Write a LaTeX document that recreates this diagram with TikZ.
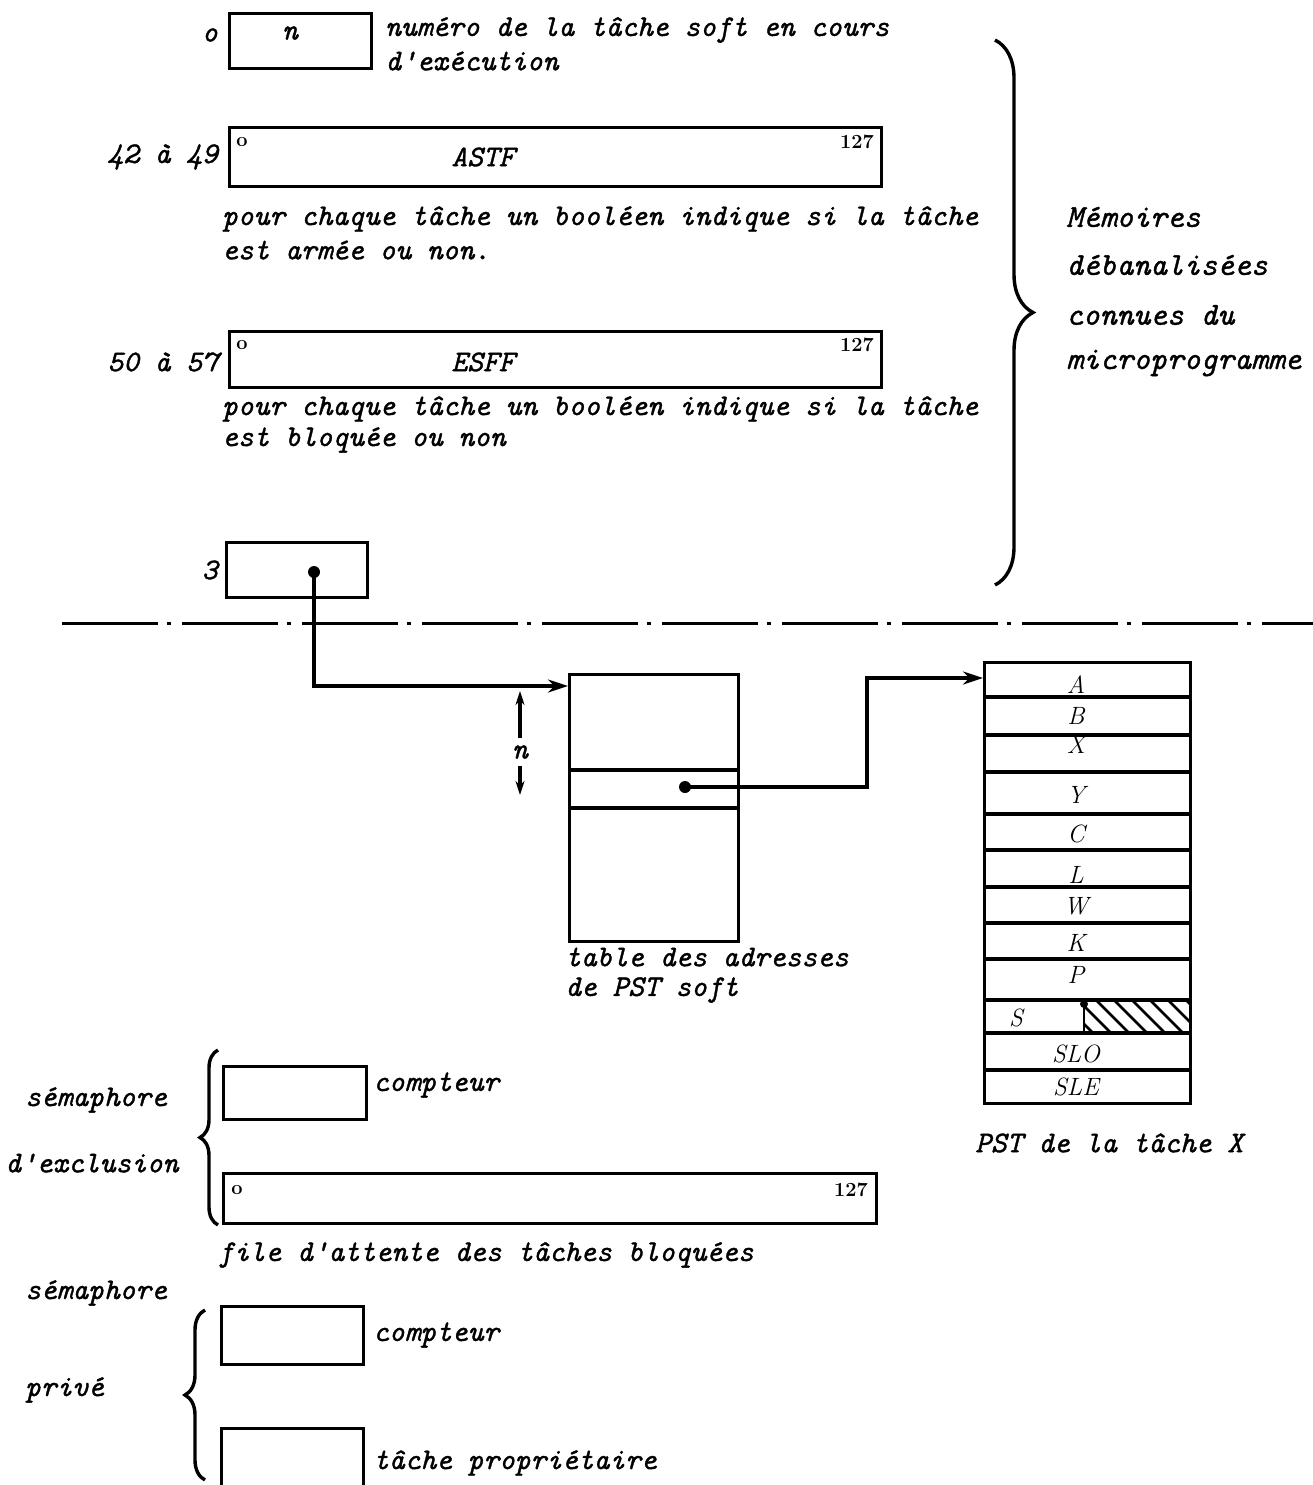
\documentclass[tikz,border=0pt]{standalone}
\usepackage{fontspec}
\setmonofont{Latin Modern Mono}[FakeBold=1.2]
\usetikzlibrary{decorations.pathreplacing,arrows.meta}
\tikzset{
  box/.style={draw,line width=3.4pt,inner sep=0pt,anchor=north west},
  tw/.style={font=\fontsize{30}{34}\selectfont\ttfamily\itshape,inner sep=0pt},
  twl/.style={tw,anchor=west},
  twr/.style={tw,anchor=east},
  bigtw/.style={font=\fontsize{32}{36}\selectfont\ttfamily\itshape,inner sep=0pt,anchor=west},
  pstl/.style={font=\fontsize{25}{28}\selectfont\rmfamily\itshape,inner sep=0pt},
  small/.style={font=\fontsize{20}{22}\selectfont\rmfamily\bfseries,inner sep=0pt},
  conn/.style={line width=3.2pt},
  arr/.style={conn,-{Stealth[length=20pt,width=13pt]}},
  dotn/.style={circle,fill,inner sep=0pt,minimum size=12pt},
  bracedec/.style={line width=3.4pt,decorate,decoration={brace,amplitude=#1}},
  row/.style={line width=3.2pt}
}
\begin{document}
\begin{tikzpicture}[x=1pt,y=-1pt]
\useasboundingbox (0,0) rectangle (1313,1485);
% --- top: n
\node[twr] (lo) at (218,35) {o};
\node[box,minimum width=142pt,minimum height=55pt] (bn) at (228,12) {};
\node[tw] (tn) at (290,33) {n};
\node[twl] (tnum1) at (385,30) {numéro de la tâche soft en cours};
\node[twl] (tnum2) at (385,61) {d'exécution};
% --- ASTF
\node[twr] (l42) at (218,157) {42 à 49};
\node[box,minimum width=652pt,minimum height=59pt] (astf) at (228,126) {};
\node[small] (a0) at (242,142) {o};
\node[small,anchor=east] (a127) at (874,142) {127};
\node[tw] (tastf) at (483,157) {ASTF};
\node[twl] (p1a) at (222,219) {pour chaque tâche un booléen indique si la tâche};
\node[twl] (p1b) at (222,250) {est armée ou non.};
% --- ESFF
\node[twr] (l50) at (218,362) {50 à 57};
\node[box,minimum width=652pt,minimum height=56pt] (esff) at (228,330) {};
\node[small] (e0) at (242,345) {o};
\node[small,anchor=east] (e127) at (874,345) {127};
\node[tw] (tesff) at (483,362) {ESFF};
\node[twl] (p2a) at (222,409) {pour chaque tâche un booléen indique si la tâche};
\node[twl] (p2b) at (222,440) {est bloquée ou non};
% --- 3
\node[twr] (l3) at (218,570) {3};
\node[box,minimum width=141pt,minimum height=55pt] (b3) at (225,541) {};
\node[dotn] (d3) at (314,572) {};
% --- big brace
\draw[bracedec=38pt] (995,40) -- (995,585);
\node[bigtw] (m1) at (1066,217) {Mémoires};
\node[bigtw] (m2) at (1066,265) {débanalisées};
\node[bigtw] (m3) at (1066,315) {connues du};
\node[bigtw] (m4) at (1066,363) {microprogramme};
% --- dash-dot line
\draw[line width=3pt,dash pattern=on 96pt off 9pt on 4pt off 11pt] (62,623) -- (1313,623);
% --- table
\node[box,minimum width=169pt,minimum height=267pt] (tab) at (568,673) {};
\draw[row] (tab.west |- 0,770) -- (tab.east |- 0,770);
\draw[row] (tab.west |- 0,808) -- (tab.east |- 0,808);
\node[dotn] (dt) at (685,787) {};
\coordinate (tin) at (568,686);
\draw[arr] (d3.center) |- (tin);
\node[tw] (nn) at (520,752) {n};
\draw[conn,-{Stealth[length=14pt,width=9pt]}] (520,738) -- (520,691);
\draw[conn,-{Stealth[length=14pt,width=9pt]}] (520,766) -- (520,795);
\node[twl] (ta1) at (565,957) {table des adresses};
\node[twl] (ta2) at (565,990) {de PST soft};
% --- PST
\node[box,minimum width=206pt,minimum height=441pt] (pst) at (983,661) {};
\foreach \yy in {697,735,772,814,850,887,923,959,1000,1033,1070}
  \draw[row] (983,\yy) -- (1189,\yy);
\begin{scope}
  \clip (1084,1000) rectangle (1189,1033);
  \foreach \xx in {1060,1078,...,1200}
    \draw[line width=2.6pt] (\xx,1000) -- (\xx+33,1033);
\end{scope}
\draw[line width=2.6pt] (1084,1033) -- (1084,1004);
\node[circle,fill,inner sep=0pt,minimum size=8pt] (ds) at (1084,1004) {};
\coordinate (pin) at (983,678);
\draw[arr] (dt.center) -- (867,787) |- (pin);
\node[pstl] (rA) at (1076,685) {A};
\node[pstl] (rB) at (1076,716) {B};
\node[pstl] (rX) at (1076,745) {X};
\node[pstl] (rY) at (1076,795) {Y};
\node[pstl] (rC) at (1076,834) {C};
\node[pstl] (rL) at (1076,875) {L};
\node[pstl] (rW) at (1076,906) {W};
\node[pstl] (rK) at (1076,943) {K};
\node[pstl] (rP) at (1076,975) {P};
\node[pstl] (rS) at (1016,1018) {S};
\node[pstl] (rSLO) at (1076,1054) {SLO};
\node[pstl] (rSLE) at (1076,1087) {SLE};
\node[twl] (pstx) at (975,1143) {PST de la tâche X};
% --- semaphore d'exclusion
\node[twl] (s1) at (25,1100) {sémaphore};
\node[twl] (s2) at (5,1163) {d'exclusion};
\draw[bracedec=18pt] (218,1225) -- (218,1050);
\node[box,minimum width=143pt,minimum height=53pt] (c1) at (222,1065) {};
\node[twl] (tc1) at (373,1085) {compteur};
\node[box,minimum width=653pt,minimum height=50pt] (fq) at (222,1172) {};
\node[small] (f0) at (237,1190) {o};
\node[small,anchor=east] (f127) at (868,1190) {127};
\node[twl] (tfq) at (218,1255) {file d'attente des tâches bloquées};
% --- semaphore prive
\node[twl] (s3) at (25,1293) {sémaphore};
\node[twl] (s4) at (25,1390) {privé};
\draw[bracedec=20pt] (205,1480) -- (205,1310);
\node[box,minimum width=142pt,minimum height=58pt] (c2) at (220,1305) {};
\node[twl] (tc2) at (373,1335) {compteur};
\node[box,minimum width=142pt,minimum height=58pt] (tp) at (220,1427) {};
\node[twl] (ttp) at (373,1463) {tâche propriétaire};
\end{tikzpicture}
\end{document}
